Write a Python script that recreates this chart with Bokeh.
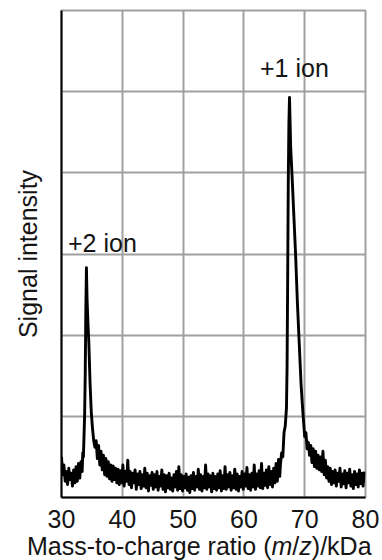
import numpy as np
from bokeh.plotting import figure
from bokeh.models import Label, FixedTicker, Range1d
from bokeh.layouts import column
from bokeh.embed import file_html
from bokeh.resources import INLINE

# ---------------- data ----------------
x_ticks = [30, 40, 50, 60, 70, 80]
y_grid = [1, 2, 3, 4, 5]

# noisy baseline segment before +2 ion peak (start 30.0, step 0.2)
seg_a_start, seg_a_step = 30.0, 0.2
seg_a_y = [0.50, 0.28, 0.40, 0.20, 0.32, 0.16, 0.36, 0.22, 0.30, 0.14,
           0.34, 0.18, 0.38, 0.20, 0.42, 0.24, 0.44]

# +2 ion peak
peak2_x = [33.4, 33.5, 33.6, 33.7, 33.8, 33.9, 34.0, 34.1, 34.2, 34.35,
           34.5, 34.7, 34.9, 35.1, 35.3, 35.5]
peak2_y = [0.32, 0.55, 0.50, 0.75, 1.00, 1.50, 2.30, 2.83, 2.45, 2.15,
           1.90, 1.40, 1.05, 0.85, 0.70, 0.62]

# noisy baseline between the peaks (start 35.7, step 0.2)
seg_b_start, seg_b_step = 35.7, 0.2
seg_b_y = [0.70, 0.48, 0.64, 0.40, 0.57, 0.34, 0.52, 0.28, 0.48, 0.26,
           0.44, 0.23, 0.40, 0.20, 0.39, 0.22, 0.36, 0.18, 0.35, 0.16,
           0.33, 0.18, 0.40, 0.14, 0.32, 0.20, 0.46, 0.16, 0.32, 0.12,
           0.30, 0.18, 0.34, 0.10, 0.29, 0.16, 0.32, 0.11, 0.28, 0.14,
           0.36, 0.12, 0.30, 0.08, 0.27, 0.15, 0.31, 0.10, 0.28, 0.13,
           0.32, 0.09, 0.26, 0.14, 0.34, 0.10, 0.28, 0.07, 0.27, 0.12,
           0.30, 0.10, 0.24, 0.08, 0.28, 0.13, 0.32, 0.09, 0.38, 0.11,
           0.28, 0.08, 0.26, 0.12, 0.29, 0.09, 0.25, 0.06, 0.27, 0.11,
           0.31, 0.09, 0.26, 0.13, 0.35, 0.10, 0.28, 0.08, 0.26, 0.12,
           0.40, 0.10, 0.29, 0.13, 0.27, 0.07, 0.30, 0.11, 0.26, 0.09,
           0.29, 0.12, 0.33, 0.08, 0.27, 0.11, 0.38, 0.10, 0.28, 0.13,
           0.31, 0.09, 0.27, 0.12, 0.35, 0.10, 0.29, 0.08, 0.26, 0.13,
           0.32, 0.10, 0.29, 0.14, 0.37, 0.11, 0.28, 0.09, 0.30, 0.13,
           0.40, 0.10, 0.29, 0.14, 0.33, 0.12, 0.42, 0.11, 0.30, 0.15,
           0.34, 0.12, 0.38, 0.16, 0.32, 0.13, 0.36, 0.18, 0.42, 0.20,
           0.47, 0.26]

# +1 ion peak
peak1_x = [66.0, 66.2, 66.4, 66.6, 66.8, 67.0, 67.1, 67.2, 67.3, 67.4,
           67.5, 67.7, 67.9, 68.2, 68.5, 68.8, 69.1, 69.4, 69.7, 70.0,
           70.2, 70.4, 70.6]
peak1_y = [0.40, 0.55, 0.50, 0.80, 0.88, 1.10, 1.60, 2.70, 3.90, 4.60,
           4.93, 4.30, 4.00, 3.50, 3.00, 2.40, 1.90, 1.40, 1.05, 0.75,
           0.80, 0.60, 0.68]

# noisy baseline after +1 ion peak (start 70.8, step 0.2)
seg_c_start, seg_c_step = 70.8, 0.2
seg_c_y = [0.52, 0.64, 0.43, 0.60, 0.38, 0.57, 0.36, 0.52, 0.34, 0.50,
           0.32, 0.57, 0.28, 0.46, 0.24, 0.38, 0.20, 0.36, 0.16, 0.32,
           0.18, 0.34, 0.14, 0.30, 0.20, 0.36, 0.13, 0.29, 0.17, 0.33,
           0.12, 0.30, 0.18, 0.35, 0.14, 0.28, 0.11, 0.32, 0.16, 0.29,
           0.13, 0.34, 0.17, 0.30, 0.14, 0.32]

ion_labels = ["+2 ion", "+1 ion"]
x_label_parts = ["Mass-to-charge ratio (", "m", "/", "z", ")/kDa"]
y_label = "Signal intensity"

# ---------------- assemble series ----------------
def seg_x(start, step, vals):
    return list(np.round(start + step * np.arange(len(vals)), 3))

xs = seg_x(seg_a_start, seg_a_step, seg_a_y) + peak2_x + \
     seg_x(seg_b_start, seg_b_step, seg_b_y) + peak1_x + \
     seg_x(seg_c_start, seg_c_step, seg_c_y)
ys = seg_a_y + peak2_y + seg_b_y + peak1_y + seg_c_y

# ---------------- main figure ----------------
FONT = "Liberation Sans"
TXT = "#141414"
GRID = "#a0a0a0"
W, H_MAIN, H_TITLE = 382, 532, 28

p = figure(width=W, height=H_MAIN, x_range=Range1d(30, 80), y_range=Range1d(0, 6),
           output_backend="svg", toolbar_location=None,
           min_border_left=61, min_border_right=17, min_border_top=10, min_border_bottom=35)
p.background_fill_color = "white"
p.border_fill_color = "white"
p.outline_line_color = GRID
p.outline_line_width = 2

p.xaxis.ticker = FixedTicker(ticks=x_ticks)
p.yaxis.ticker = FixedTicker(ticks=y_grid)
for ax in (p.xaxis[0], p.yaxis[0]):
    ax.major_tick_line_color = None
    ax.minor_tick_line_color = None
    ax.axis_line_color = "black"
    ax.axis_line_width = 2
p.xaxis.major_label_text_font = FONT
p.xaxis.major_label_text_font_size = "25px"
p.xaxis.major_label_text_color = TXT
p.xaxis.major_label_standoff = 6
p.yaxis.major_label_text_font_size = "0px"
p.yaxis.major_label_text_color = None
p.yaxis.axis_label = y_label
p.yaxis.axis_label_text_font = FONT
p.yaxis.axis_label_text_font_size = "25px"
p.yaxis.axis_label_text_font_style = "normal"
p.yaxis.axis_label_text_color = TXT
p.yaxis.axis_label_standoff = 14

p.xgrid.grid_line_color = GRID
p.xgrid.grid_line_width = 2
p.ygrid.grid_line_color = GRID
p.ygrid.grid_line_width = 2

p.line(xs, ys, line_width=2.9, color="black", line_join="round")

# helpers to convert page-pixel layout positions to data coordinates
FL, FR, FT, FB = 61.0, 365.0, 10.0, 497.0
def px2x(px):
    return 30 + (px - FL) / (FR - FL) * 50
def py2y(py):
    return (FB - py) / (FB - FT) * 6

p.add_layout(Label(x=px2x(67.5), y=py2y(242), text=ion_labels[0], text_font=FONT,
                   text_font_size="25px", text_color=TXT, text_baseline="alphabetic"))
p.add_layout(Label(x=px2x(259.5), y=py2y(67), text=ion_labels[1], text_font=FONT,
                   text_font_size="25px", text_color=TXT, text_baseline="alphabetic"))

# ---------------- x-axis title strip (italic m and z) ----------------
t = figure(width=W, height=H_TITLE, x_range=Range1d(0, W), y_range=Range1d(0, H_TITLE),
           output_backend="svg", toolbar_location=None, min_border=0)
t.frame_align = False
t.title = None
t.axis.visible = False
t.grid.visible = False
t.outline_line_color = None
t.background_fill_color = "white"
t.border_fill_color = "white"

part_px = [26.5, 271.0, 291.8, 298.8, 311.3]
part_style = ["normal", "italic", "normal", "italic", "normal"]
baseline_from_bottom = 15
for txt, xp, st in zip(x_label_parts, part_px, part_style):
    t.add_layout(Label(x=xp, y=baseline_from_bottom, text=txt, text_font=FONT,
                       text_font_size="25px", text_font_style=st, text_color=TXT,
                       text_baseline="alphabetic"))

layout = column(p, t, spacing=0)
open("out.html", "w").write(file_html(layout, INLINE))
